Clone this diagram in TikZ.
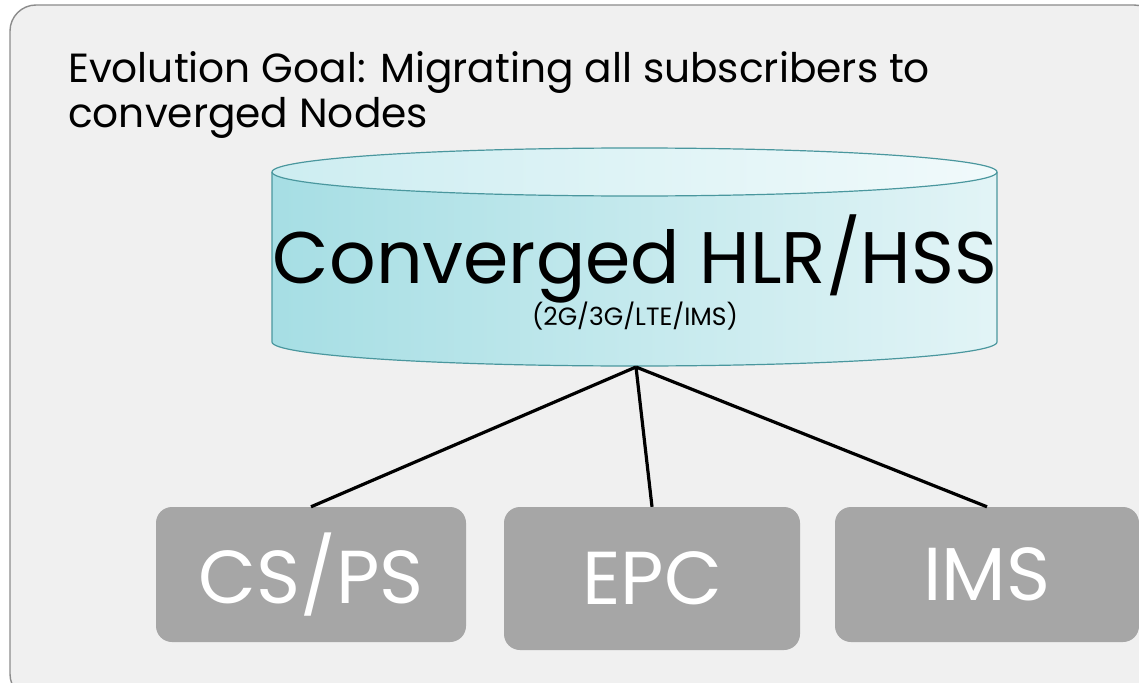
\documentclass[tikz,border=0pt]{standalone}
\usepackage{fontspec}
\setmainfont{Poppins}
\usetikzlibrary{positioning}

\definecolor{panelgray}{HTML}{F0F0F0}
\definecolor{panelline}{HTML}{8C8C8C}
\definecolor{cylleft}{HTML}{A6DEE4}
\definecolor{cylright}{HTML}{E2F4F6}
\definecolor{capleft}{HTML}{CDEDF1}
\definecolor{capright}{HTML}{F1FAFB}
\definecolor{cylline}{HTML}{4A979E}
\definecolor{boxgray}{HTML}{A6A6A6}

\begin{document}
\begin{tikzpicture}[x=1pt,y=-1pt,
  subsys/.style={fill=boxgray,rounded corners=16pt,text=white,
    font=\fontsize{75}{75}\selectfont,inner sep=0pt},
  link/.style={line width=3.2pt,black}]
  \useasboundingbox (0,0) rectangle (1139,682);
  % background panel
  \fill[white] (0,0) rectangle (1139,682);
  \draw[panelline,fill=panelgray,line width=1.4pt,rounded corners=26pt]
    (10,5) rectangle (1160,700);
  \node[anchor=base west,align=left,inner sep=0pt,
    font=\fontsize{40.7}{45}\selectfont] (goal) at (68,128)
    {Evolution Goal: Migrating all subscribers to\\converged Nodes};
  % database cylinder
  \shade[left color=cylleft,right color=cylright]
    (272,172) -- (272,342) arc[start angle=180,end angle=360,x radius=362.5,y radius=-24]
    -- (997,172) arc[start angle=0,end angle=180,x radius=362.5,y radius=24] -- cycle;
  \shade[left color=capleft,right color=capright]
    (634.5,172) ellipse[x radius=362.5,y radius=24];
  \draw[cylline,line width=1.2pt]
    (272,172) -- (272,342) arc[start angle=180,end angle=360,x radius=362.5,y radius=-24]
    -- (997,172);
  \draw[cylline,line width=1.2pt] (634.5,172) ellipse[x radius=362.5,y radius=24];
  \node[font=\fontsize{73}{73}\selectfont,inner sep=0pt,anchor=base] (hlr) at (635,283)
    {Converged HLR/HSS};
  \node[font=\fontsize{25}{25}\selectfont,inner sep=0pt,anchor=base] (gens) at (635,325)
    {(2G/3G/LTE/IMS)};
  \coordinate (hub) at (636,367);
  % core networks
  \node[subsys,minimum width=310pt,minimum height=135pt] (cs) at (311,574.5)
    {\raisebox{-3pt}{CS/PS}};
  \node[subsys,minimum width=296pt,minimum height=143pt] (epc) at (652,578.5)
    {\raisebox{-3pt}{EPC}};
  \node[subsys,minimum width=304pt,minimum height=135pt] (ims) at (987,574.5)
    {\raisebox{-3pt}{IMS}};
  \draw[link] (hub) -- (cs.north);
  \draw[link] (hub) -- (epc.north);
  \draw[link] (hub) -- (ims.north);
\end{tikzpicture}
\end{document}
